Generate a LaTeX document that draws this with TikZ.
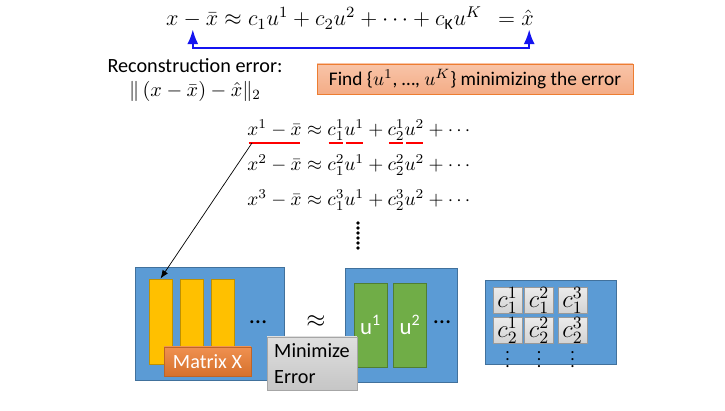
\RequirePackage{fix-cm}
\documentclass[tikz,border=0pt]{standalone}
\usepackage{amsmath}
\usepackage{fontspec}
\setmainfont{Carlito}
\usetikzlibrary{arrows.meta,positioning,calc}
\definecolor{boxblue}{RGB}{91,155,213}
\definecolor{boxblueline}{RGB}{65,113,156}
\definecolor{baryellow}{RGB}{255,192,0}
\definecolor{barline}{RGB}{191,144,0}
\definecolor{ugreen}{RGB}{112,173,71}
\definecolor{ugreenline}{RGB}{80,126,50}
\definecolor{deeporange}{RGB}{237,125,49}
\definecolor{salmontop}{RGB}{248,196,168}
\definecolor{salmonbot}{RGB}{244,172,134}
\definecolor{linkblue}{RGB}{20,20,240}
% red bar under a piece of formula, all at one depth
\newcommand\redunder[1]{\setbox0\hbox{$#1$}\dp0=2.6pt\vtop{\offinterlineskip\copy0\kern0.8pt\hbox{\kern0.7pt\color{red}\rule{\dimexpr\wd0-1.4pt}{1.1pt}}}}

\begin{document}
\begin{tikzpicture}[x=0.02cm,y=-0.02cm,>=Latex,
  bigbox/.style={draw=boxblueline,fill=boxblue,inner sep=0pt},
  xbar/.style={draw=barline,fill=baryellow,minimum width=0.46cm,minimum height=1.70cm,inner sep=0pt},
  ubar/.style={draw=ugreenline,fill=ugreen,minimum width=0.66cm,minimum height=1.68cm,inner sep=0pt,text=white,font=\fontsize{13}{15}\selectfont},
  cbox/.style={draw=gray!80,top color=gray!15,bottom color=gray!35,minimum width=0.58cm,minimum height=0.5cm,inner sep=0pt,font=\fontsize{14}{15}\selectfont},
  eqline/.style={anchor=base west,inner sep=0pt,font=\fontsize{11}{14}\selectfont}]
\useasboundingbox (0,0) rectangle (725,411);

% top equation and its link
\node[inner sep=0pt,font=\fontsize{12.7}{16}\selectfont] (topeq) at (350,18) {$x-\bar{x}\approx c_1u^1+c_2u^2+\cdots+c_{\mathrm{K}}u^K\ \ =\hat{x}$};
\coordinate (minusfoot) at ($(topeq.south west)+(27,0)$);
\coordinate (hatfoot) at ($(topeq.south east)+(-5,0)$);
\draw[<->,linkblue,line width=1.2pt] (minusfoot) -- ++(0,19) -| (hatfoot);

\node[align=center,inner sep=0pt,font=\fontsize{11.5}{14}\selectfont] (recerr) at (195,80) {Reconstruction error:\\$\|\,(x-\bar{x})-\hat{x}\|_2$};
\node[draw=deeporange,top color=salmontop,bottom color=salmonbot,minimum width=6.32cm,minimum height=0.6cm,inner sep=0pt,font=\fontsize{11}{14}\selectfont] (findbox) at (475,79) {Find \{$u^1$, \ldots, $u^K$\} minimizing the error};

% the data, one row per example
\node[eqline] (eq1) at (247,136) {$\redunder{x^1-\bar{x}}\approx \redunder{c_1^1}\redunder{u^1}+\redunder{c_2^1}\redunder{u^2}+\cdots$};
\node[eqline] (eq2) at (247,171) {$x^2-\bar{x}\approx c_1^2u^1+c_2^2u^2+\cdots$};
\node[eqline] (eq3) at (247,206) {$x^3-\bar{x}\approx c_1^3u^1+c_2^3u^2+\cdots$};
\foreach \k in {0,...,5}
  \fill (358,223+5*\k) circle (1.1pt);

% matrix X
\node[bigbox,minimum width=2.98cm,minimum height=2.26cm] (matx) at (209.5,323.5) {};
\node[xbar] (bar1) at (160.5,321.5) {};
\node[xbar] (bar2) at (191.5,321.5) {};
\node[xbar] (bar3) at (223,321.5) {};
\node[font=\fontsize{14}{16}\selectfont] (xdots) at (258,322) {\dots};
\node[draw=deeporange!80!black,top color=deeporange!85!white,bottom color=deeporange!90!black,text=white,minimum width=1.74cm,minimum height=0.58cm,inner sep=0pt,font=\fontsize{11.5}{13}\selectfont] (xlabel) at (207.5,361.5) {Matrix X};

\coordinate (xonefoot) at ($(eq1.base west)+(5,7)$);
\draw[->] (xonefoot) -- (bar1.north);

\node[font=\fontsize{14}{16}\selectfont] (approx) at (316,322) {$\approx$};

% components u
\node[bigbox,minimum width=2.24cm,minimum height=2.28cm] (matu) at (401,325) {};
\node[ubar] (u1) at (370.5,325) {u\textsuperscript{1}};
\node[ubar] (u2) at (410,325) {u\textsuperscript{2}};
\node[font=\fontsize{14}{16}\selectfont] (udots) at (442,322) {\dots};

\node[draw=gray!70,top color=gray!25,bottom color=gray!45,minimum width=1.8cm,minimum height=1.06cm,inner sep=0pt,align=left,font=\fontsize{11.5}{15}\selectfont] (minerr) at (312,363.5) {Minimize\\Error};

% coefficients
\node[bigbox,minimum width=2.62cm,minimum height=1.68cm] (matc) at (550.5,322) {};
\foreach \col/\xx in {1/507.5,2/539,3/572.5} {
  \node[cbox] (c1\col) at (\xx,300.5) {$c_1^{\col}$};
  \node[cbox] (c2\col) at (\xx,330.5) {$c_2^{\col}$};
  \node[inner sep=0pt] (cdots\col) at (\xx,354) {$\vdots$};
}
\end{tikzpicture}
\end{document}
